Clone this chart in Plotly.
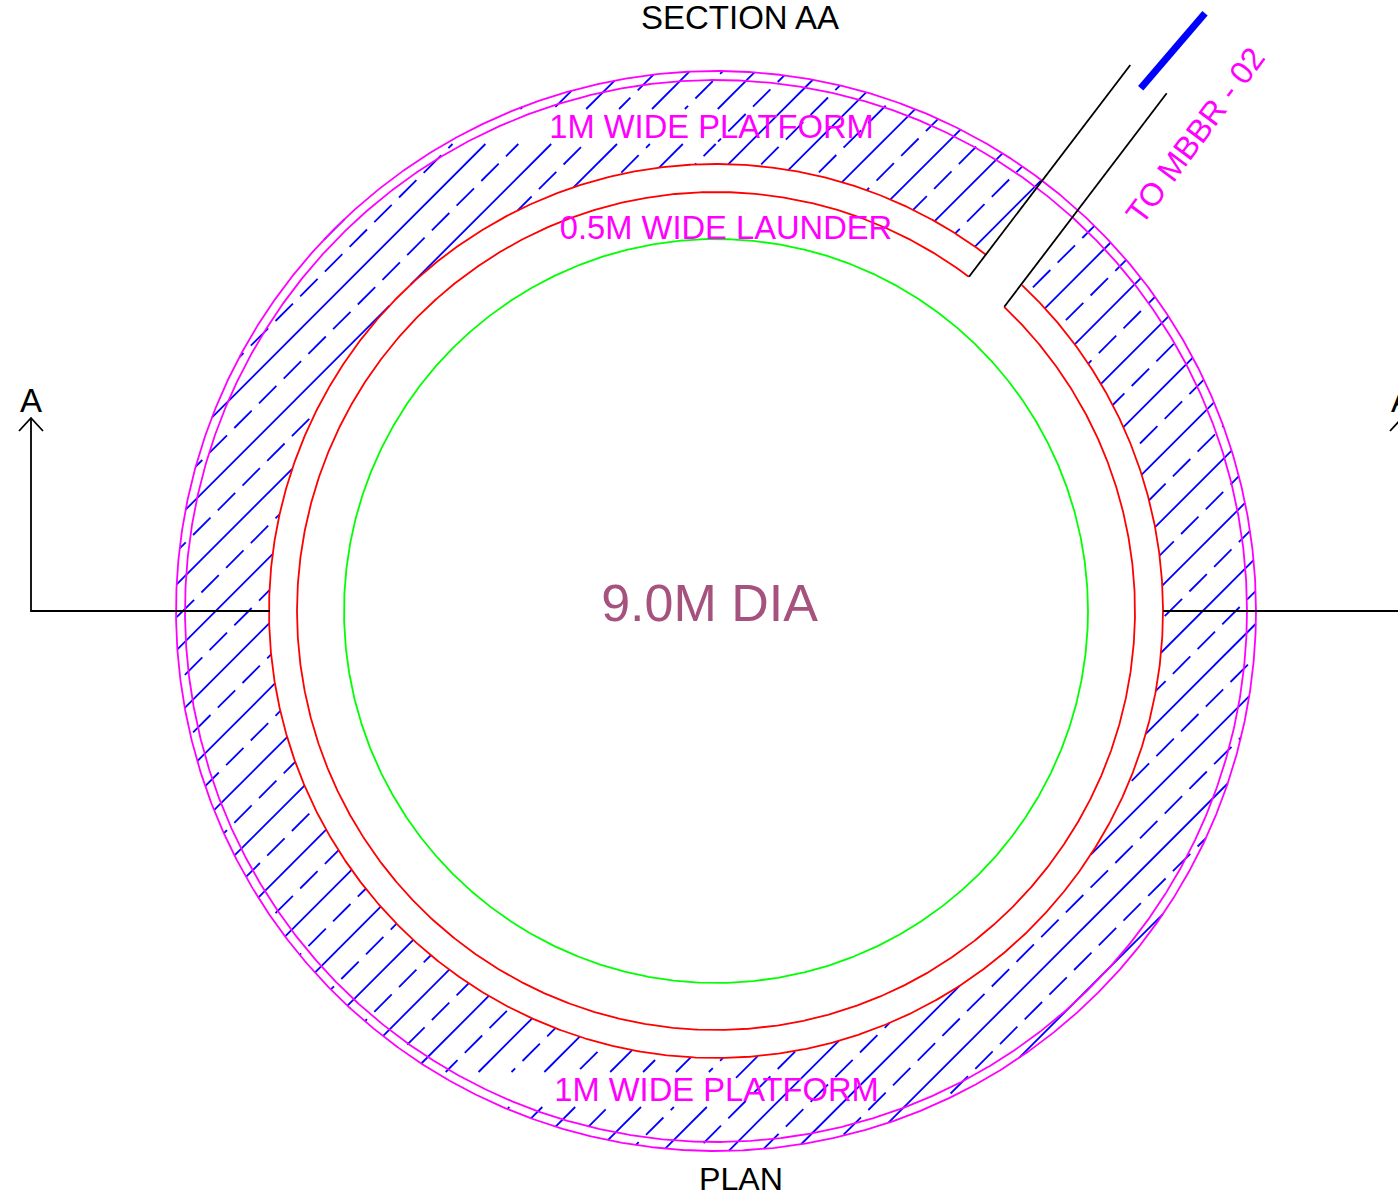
import numpy as np
import plotly.graph_objects as go

# Drawing geometry (page pixels)
CENTER = (716, 611)
R_GREEN = 372
R_RED_INNER = 419
R_RED_OUTER = 447
R_MAG_INNER = 531
R_MAG_OUTER = 540
RED_INNER_GAP_DEG = (46.55, 52.9)
RED_OUTER_GAP_DEG = (46.8, 52.8)

# Hatch lines: x + y offset of each line
HATCH_SOLID = [563.6, 629.4, 695.2, 761.0, 826.8, 892.6, 958.4, 1024.2, 1090.0, 1155.8,
               1221.6, 1287.4, 1353.2, 1419.0, 1484.8, 1550.6, 1616.4, 1682.2, 1748.0,
               1813.8, 1879.6, 1945.4, 2011.2, 2077.0]
HATCH_DASHED = [596.5, 662.3, 728.1, 793.9, 859.7, 925.5, 991.3, 1057.1, 1122.9, 1188.7,
                1254.5, 1320.3, 1386.1, 1451.9, 1517.7, 1583.5, 1649.3, 1715.1, 1780.9,
                1846.7, 1912.5, 1978.3, 2044.1]
DASH_PHASE = [3.8, 12.0, 20.2, 3.8, 12.0, 20.2, 3.8, 12.0, 20.2, 3.8, 12.0, 20.2,
              3.8, 12.0, 20.2, 3.8, 12.0, 20.2, 3.8, 12.0, 20.2, 3.8, 12.0]
DASH_PERIOD = 24.7
DASH_LENGTH = 17.4

# Text islands left unhatched: (x limit, y top, y bottom)
HATCH_ISLANDS = [(718, 109, 144), (736, 1072, 1107)]

PIPE_LEFT = [(969, 276.7), (1130.3, 65)]
PIPE_RIGHT = [(1004.3, 306.7), (1166.7, 93.3)]
PIPE_MARK = [(1140.7, 88.3), (1205, 13.3)]
SECTION_LEFT = [(270, 611), (31, 611), (31, 418)]
ARROW_LEFT = [(19, 431), (31, 418), (43, 431)]
SECTION_RIGHT = [(1163, 611), (1402, 611), (1402, 418)]
ARROW_RIGHT = [(1390, 431), (1402, 418), (1414, 431)]

BLACK_LABELS = ["SECTION AA", "PLAN", "A", "A"]
BLACK_X = [740, 741, 31, 1402]
BLACK_Y = [21, 1182, 404, 404]
BLACK_SIZE = [33, 32.2, 33, 33]
MAGENTA_LABELS = ["1M WIDE PLATFORM", "0.5M WIDE LAUNDER", "1M WIDE PLATFORM"]
MAGENTA_X = [711.5, 726, 716.5]
MAGENTA_Y = [130, 231, 1093]


def arc(radius, gap=None):
    if gap is None:
        deg = np.linspace(0, 360, 1441)
    else:
        deg = np.linspace(gap[0], gap[1] - 360, 1441)
    t = np.radians(deg)
    return CENTER[0] + radius * np.cos(t), CENTER[1] - radius * np.sin(t)


def subtract(spans, lo, hi):
    out = []
    for a, b in spans:
        if hi <= a or lo >= b:
            out.append((a, b))
            continue
        if a < lo:
            out.append((a, lo))
        if hi < b:
            out.append((hi, b))
    return out


def line_spans(s):
    """Parts of the line x + y = s inside the ring, as x intervals."""
    w = s - CENTER[0] - CENTER[1]
    q_out = 2 * R_MAG_OUTER ** 2 - w ** 2
    if q_out <= 0:
        return []
    x1 = CENTER[0] + (w - np.sqrt(q_out)) / 2
    x2 = CENTER[0] + (w + np.sqrt(q_out)) / 2
    spans = [(x1, x2)]
    q_in = 2 * R_RED_OUTER ** 2 - w ** 2
    if q_in > 0:
        spans = subtract(spans, CENTER[0] + (w - np.sqrt(q_in)) / 2,
                         CENTER[0] + (w + np.sqrt(q_in)) / 2)
    # between the two pipe walls (only lines that actually meet the right wall)
    if s < PIPE_RIGHT[0][0] + PIPE_RIGHT[0][1]:
        cuts = []
        for (p, q) in (PIPE_LEFT, PIPE_RIGHT):
            dx, dy = q[0] - p[0], q[1] - p[1]
            t = (s - p[0] - p[1]) / (dx + dy)
            cuts.append(p[0] + t * dx)
        spans = subtract(spans, min(cuts), max(cuts))
    # text islands
    for xlim, ytop, ybot in HATCH_ISLANDS:
        lo, hi = s - ybot, s - ytop
        hi = min(hi, xlim)
        if lo < hi:
            spans = subtract(spans, lo, hi)
    return spans


def polyline(points):
    return [p[0] for p in points], [p[1] for p in points]


solid_x, solid_y = [], []
for s in HATCH_SOLID:
    for a, b in line_spans(s):
        solid_x += [a, b, None]
        solid_y += [s - a, s - b, None]

dash_x, dash_y = [], []
for s, phase in zip(HATCH_DASHED, DASH_PHASE):
    for a, b in line_spans(s):
        k = np.floor((a - phase) / DASH_PERIOD) - 1
        start = phase + k * DASH_PERIOD
        while start < b:
            lo, hi = max(start, a), min(start + DASH_LENGTH, b)
            if lo < hi:
                dash_x += [lo, hi, None]
                dash_y += [s - lo, s - hi, None]
            start += DASH_PERIOD

fig = go.Figure()


def add_line(x, y, color, width=1.8):
    fig.add_trace(go.Scatter(x=x, y=y, mode="lines", hoverinfo="skip", showlegend=False,
                             line=dict(color=color, width=width)))


add_line(solid_x, solid_y, "#0000FF")
add_line(dash_x, dash_y, "#0000FF")
for r in (R_MAG_OUTER, R_MAG_INNER):
    add_line(*arc(r), "#FF00FF")
add_line(*arc(R_RED_OUTER, RED_OUTER_GAP_DEG), "#FF0000")
add_line(*arc(R_RED_INNER, RED_INNER_GAP_DEG), "#FF0000")
add_line(*arc(R_GREEN), "#00FF00")
for pts in (PIPE_LEFT, PIPE_RIGHT, SECTION_LEFT, ARROW_LEFT, SECTION_RIGHT, ARROW_RIGHT):
    add_line(*polyline(pts), "#000000")
add_line(*polyline(PIPE_MARK), "#0000FF", 7)

fig.add_trace(go.Scatter(x=BLACK_X, y=BLACK_Y, text=BLACK_LABELS, mode="text", showlegend=False,
                         hoverinfo="skip",
                         textfont=dict(family="Liberation Sans", size=BLACK_SIZE, color="#000000")))
fig.add_trace(go.Scatter(x=MAGENTA_X, y=MAGENTA_Y, text=MAGENTA_LABELS, mode="text", showlegend=False,
                         hoverinfo="skip",
                         textfont=dict(family="Liberation Sans", size=32.7, color="#FF00FF")))
fig.add_trace(go.Scatter(x=[709.5], y=[608], text=["9.0M DIA"], mode="text", showlegend=False,
                         hoverinfo="skip",
                         textfont=dict(family="Liberation Sans", size=52, color="#A6527F")))

fig.add_annotation(x=1195, y=136, xref="x", yref="y", text="TO MBBR - 02", showarrow=False,
                   textangle=-53.5, font=dict(family="Liberation Sans", size=32, color="#FF00FF"))

fig.update_xaxes(range=[0, 1398], visible=False, fixedrange=True)
fig.update_yaxes(range=[1193, 0], visible=False, fixedrange=True)
fig.update_layout(width=1398, height=1193, margin=dict(l=0, r=0, t=0, b=0), autosize=False,
                  paper_bgcolor="#FFFFFF", plot_bgcolor="#FFFFFF", showlegend=False)

fig.write_html("out.html", post_script="document.body.style.margin='0';document.body.style.overflow='hidden';",
               config={"displayModeBar": False})
